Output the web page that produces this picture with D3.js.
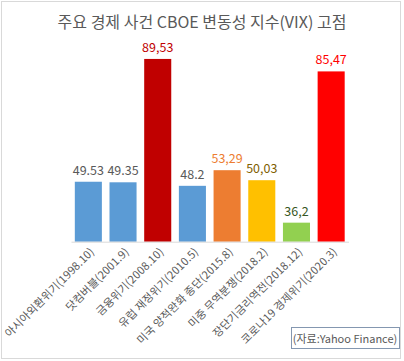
<!DOCTYPE html>
<html><head><meta charset="utf-8">
<script src="https://cdn.jsdelivr.net/npm/d3@7"></script>
<style>body{margin:0;background:#fff}svg{display:block}text{font-family:"Noto Sans CJK KR","Noto Sans",sans-serif}</style>
</head><body><svg id="c" width="404" height="361"></svg>
<script>
const categories = ["아시아외환위기(1998.10)","닷컴버블(2001.9)","금융위기(2008.10)","유럽 재정위기(2010.5)","미국 양적완화 종단(2015.8)","미중 무역분쟁(2018.2)","장단기금리역전(2018.12)","코로나19 경제위기(2020.3)"];
const values = [49.53, 49.35, 89.53, 48.2, 53.29, 50.03, 36.2, 85.47];
const valueLabels = ["49.53","49.35","89,53","48.2","53,29","50,03","36,2","85,47"];
const barColors = ["#5B9BD5","#5B9BD5","#C00000","#5B9BD5","#ED7D31","#FFC000","#92D050","#FF0000"];
const labelColors = ["#595959","#595959","#C00000","#595959","#ED7D31","#7F6000","#375623","#FF0000"];
const title = "주요 경제 사건 CBOE 변동성 지수(VIX) 고점";
const source = "(자료:Yahoo Finance)";

const svg = d3.select("#c");
svg.append("rect").attr("x",1.5).attr("y",1.5).attr("width",399).attr("height",357)
  .attr("fill","#fff").attr("stroke","#D9D9D9");
svg.append("text").attr("x",202).attr("y",28).attr("text-anchor","middle")
  .attr("font-size",16).attr("fill","#595959").text(title);

const x = d3.scaleBand().domain(categories).range([71,348.5]).paddingInner(0.22).paddingOuter(0.11);
const y = d3.scaleLinear().domain([30,90]).range([241.7,57.5]);

svg.selectAll("rect.bar").data(values).join("rect").attr("class","bar")
  .attr("x",(d,i)=>x(categories[i])).attr("width",x.bandwidth())
  .attr("y",d=>y(d)).attr("height",d=>y(30)-y(d)).attr("fill",(d,i)=>barColors[i]);

svg.selectAll("text.val").data(values).join("text").attr("class","val")
  .attr("x",(d,i)=>x(categories[i])+x.bandwidth()/2).attr("y",d=>y(d)-7)
  .attr("text-anchor","middle").attr("font-size",12.5)
  .attr("fill",(d,i)=>labelColors[i]).text((d,i)=>valueLabels[i]);

const ax = svg.append("g").attr("transform",`translate(0,${y(30)})`)
  .call(d3.axisBottom(x).tickSize(0).tickPadding(0));
ax.select(".domain").attr("stroke","#D9D9D9");
ax.selectAll(".tick text")
  .style("font-size","11px").style("letter-spacing","0.2px")
  .style("font-family",'"Noto Sans CJK KR","Noto Sans",sans-serif')
  .attr("fill","#595959")
  .attr("text-anchor","end").attr("y",0).attr("dy","0.35em")
  .attr("transform","translate(4,8) rotate(-45)");

svg.append("rect").attr("x",291.5).attr("y",327.5).attr("width",108).attr("height",21)
  .attr("fill","#fff").attr("stroke","#8497B0");
svg.append("text").attr("x",345).attr("y",342.5).attr("text-anchor","middle")
  .attr("font-size",11).attr("fill","#595959").text(source);
</script></body></html>
